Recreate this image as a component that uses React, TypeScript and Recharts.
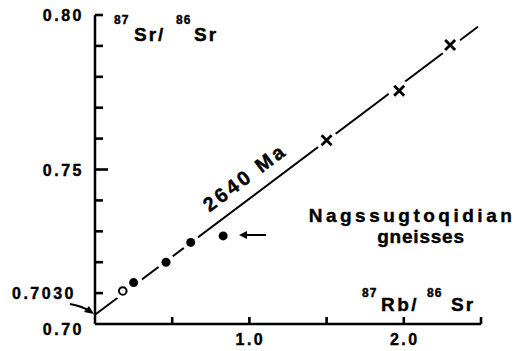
import { ScatterChart, Scatter, XAxis, YAxis, ReferenceLine } from "recharts";

// 87Rb/86Sr vs 87Sr/86Sr, Nagssugtoqidian gneisses
const isoX = [0, 2.48];
const isoY = [0.703, 0.7962];

const openX = [0.18];
const openY = [0.7107];

const dotX = [0.25, 0.46, 0.62];
const dotY = [0.7134, 0.72, 0.7264];

const offX = [0.83];
const offY = [0.7285];

const crossX = [1.5, 1.97, 2.3];
const crossY = [0.7595, 0.7755, 0.7903];

const xTicks = [0.5, 1.0, 1.5, 2.0, 2.5];
const xLabels = ["", "1.0", "", "2.0", ""];
const yTicks = [0.7, 0.71, 0.72, 0.73, 0.74, 0.75, 0.76, 0.77, 0.78, 0.79, 0.8];
const yLabels = ["0.70", "", "", "", "", "0.75", "", "", "", "", "0.80"];

const zip = (xs: number[], ys: number[]) => xs.map((x, i) => ({ x, y: ys[i] }));

const FONT = "'Liberation Sans', Arial, sans-serif";
const txt = { fontFamily: FONT, fontWeight: 700, fill: "#000", stroke: "#000", strokeWidth: 0.4 } as const;

function YTick(props: any) {
  const i = yTicks.findIndex((t) => Math.abs(t - props.payload.value) < 1e-6);
  const label = yLabels[i] || "";
  const x = Number(props.x);
  const y = Number(props.y);
  const len = i === 5 ? 13 : 8;
  const dy = i === 0 ? 11 : 6;
  return (
    <g>
      {i > 0 && <rect x={x} y={y - 1.3} width={len} height={2.6} fill="#000" />}
      {label && (
        <text x={x - 11} y={y + dy} textAnchor="end" fontSize={16} letterSpacing={2.5} {...txt}>
          {label}
        </text>
      )}
    </g>
  );
}

function XTick(props: any) {
  const i = xTicks.findIndex((t) => Math.abs(t - props.payload.value) < 1e-6);
  const label = xLabels[i] || "";
  const x = Number(props.x);
  const y = Number(props.y);
  return (
    <g>
      <rect x={x - 1.3} y={y - 7} width={2.6} height={7} fill="#000" />
      {label && (
        <text x={x + 1} y={y + 21} textAnchor="middle" fontSize={16} letterSpacing={2.5} {...txt}>
          {label}
        </text>
      )}
    </g>
  );
}

const DotShape = (p: any) => (
  <g>
    <circle cx={p.cx} cy={p.cy} r={9} fill="#fff" />
    <circle cx={p.cx} cy={p.cy} r={4.5} fill="#000" />
  </g>
);

const OpenShape = (p: any) => (
  <g>
    <circle cx={p.cx} cy={p.cy} r={9} fill="#fff" />
    <circle cx={p.cx} cy={p.cy} r={3.8} fill="#fff" stroke="#000" strokeWidth={2} />
  </g>
);

const CrossShape = (p: any) => (
  <g>
    <circle cx={p.cx} cy={p.cy} r={11} fill="#fff" />
    <line x1={p.cx - 5} x2={p.cx + 5} y1={p.cy - 5} y2={p.cy + 5} stroke="#000" strokeWidth={2.8} />
    <line x1={p.cx - 5} x2={p.cx + 5} y1={p.cy + 5} y2={p.cy - 5} stroke="#000" strokeWidth={2.8} />
  </g>
);

export default function App() {
  return (
    <div style={{ position: "absolute", left: 0, top: 0, width: 528, height: 351, background: "#fff" }}>
      {/* annotations sit underneath the chart svg so they cannot cover it */}
      <svg width={528} height={351} style={{ position: "absolute", left: 0, top: 0 }}>
        {/* y title */}
        <text x={114} y={24} fontSize={12} letterSpacing={1} {...txt}>87</text>
        <text x={134} y={41} fontSize={19} letterSpacing={2} {...txt}>Sr/</text>
        <text x={176} y={24} fontSize={12} letterSpacing={1} {...txt}>86</text>
        <text x={194} y={41} fontSize={19} letterSpacing={2} {...txt}>Sr</text>
        {/* x title */}
        <text x={362} y={297} fontSize={12} letterSpacing={1} {...txt}>87</text>
        <text x={381} y={311} fontSize={19} letterSpacing={2.5} {...txt}>Rb/</text>
        <text x={427} y={297} fontSize={12} letterSpacing={1} {...txt}>86</text>
        <text x={451} y={311} fontSize={19} letterSpacing={2} {...txt}>Sr</text>
        {/* age on the isochron */}
        <text
          x={249}
          y={183}
          textAnchor="middle"
          fontSize={20}
          letterSpacing={3}
          transform="rotate(-37 249 183)"
          {...txt}
        >
          2640 Ma
        </text>
        <text x={412} y={222} textAnchor="middle" fontSize={19} letterSpacing={3.5} {...txt}>
          Nagssugtoqidian
        </text>
        <text x={421} y={243} textAnchor="middle" fontSize={19} letterSpacing={0.8} {...txt}>
          gneisses
        </text>
        {/* initial ratio */}
        <text x={12} y={299} fontSize={16} letterSpacing={2.5} {...txt}>0.7030</text>
        <path d="M70 304 Q82 306 89 311" fill="none" stroke="#000" strokeWidth={2.2} />
        <polygon points="94,314 84,312 89,306" fill="#000" />
        {/* arrow to off-line point */}
        <line x1={266} x2={245} y1={235} y2={235} stroke="#000" strokeWidth={2} />
        <polygon points="239,235 247,231 247,239" fill="#000" />
      </svg>
      <ScatterChart width={528} height={351} margin={{ top: 15, right: 47, bottom: 0, left: 0 }}>
        <XAxis
          type="number"
          dataKey="x"
          domain={[0, 2.5]}
          ticks={xTicks}
          height={27}
          tickSize={0}
          tickMargin={0}
          tick={(p: any) => <XTick {...p} />}
          axisLine={false}
          interval={0}
        />
        <YAxis
          type="number"
          dataKey="y"
          domain={[0.7, 0.8]}
          ticks={yTicks}
          width={95}
          tickSize={0}
          tickMargin={0}
          tick={(p: any) => <YTick {...p} />}
          axisLine={false}
          interval={0}
        />
        <ReferenceLine x={0} stroke="#000" strokeWidth={2.5} />
        <ReferenceLine y={0.7} stroke="#000" strokeWidth={2.5} />
        <Scatter
          data={zip(isoX, isoY)}
          line={{ stroke: "#000", strokeWidth: 2 }}
          shape={() => <g />}
          isAnimationActive={false}
        />
        <Scatter data={zip(openX, openY)} shape={OpenShape} isAnimationActive={false} />
        <Scatter data={zip(dotX, dotY)} shape={DotShape} isAnimationActive={false} />
        <Scatter data={zip(offX, offY)} shape={DotShape} isAnimationActive={false} />
        <Scatter data={zip(crossX, crossY)} shape={CrossShape} isAnimationActive={false} />
      </ScatterChart>
    </div>
  );
}
